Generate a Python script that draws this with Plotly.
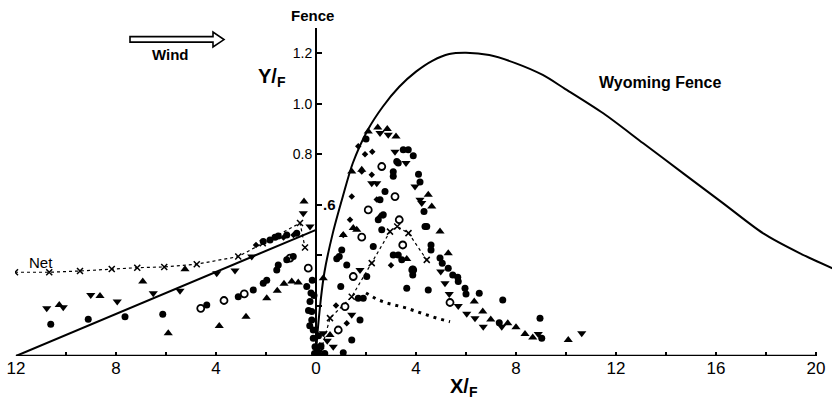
import plotly.graph_objects as go

# ---------------- data (X/F, Y/F) ----------------
wy_x = [0.0, 0.07, 0.33, 0.67, 1.07, 1.47, 2.07, 2.67, 3.33, 4.0, 4.67, 5.33, 6.0, 6.93, 8.0,
        9.07, 9.93, 11.49, 13.09, 14.69, 16.29, 17.89, 19.36, 20.7]
wy_y = [0.0, 0.103, 0.328, 0.486, 0.631, 0.764, 0.896, 0.988, 1.067, 1.127, 1.171, 1.197, 1.202, 1.193, 1.16,
        1.114, 1.061, 0.962, 0.843, 0.724, 0.605, 0.486, 0.407, 0.346]

line_x = [-12, 0]
line_y = [0, 0.5]

net_x = [-12.04, -10.67, -9.44, -8.17, -7.15, -6.07, -4.77, -3.11, -2.13, -0.64, -0.44, None,
         0.2, 0.56, 1.43, 2.23, 2.96, 3.25, 3.7, 4.43]
net_y = [0.332, 0.332, 0.337, 0.345, 0.35, 0.353, 0.364, 0.394, 0.447, 0.527, 0.43, None,
         0.02, 0.15, 0.235, 0.368, 0.493, 0.513, 0.487, 0.381]

dots_x = [2.0, 2.43, 2.83, 3.23, 3.63, 4.03, 4.43, 4.83, 5.36]
dots_y = [0.25, 0.225, 0.21, 0.2, 0.19, 0.176, 0.163, 0.15, 0.136]

circ_x = [-10.61, -9.11, -7.64, -6.13, -4.37, -3.11, -2.51, -2.11, -1.97, -1.57, -1.51, -1.17, -0.91,
          -0.37, -0.24, -0.17, -0.17, -0.11, -0.11, -0.04, -2.11, -1.84, -1.64, -1.51, -1.17, -0.77,
          -0.2, -0.15, -0.25, -0.06, -0.3, -0.08,
          0.05, 0.12, 0.35, 0.2, 1.09, 1.43, 1.76, 1.69, 1.89, 0.99, 2.03, 1.23, 1.03, 0.93, 0.83,
          2.29, 2.63, 2.49, 2.69, 2.56, 2.76, 3.09, 3.09, 3.29, 3.09, 3.29, 3.43, 3.63, 3.87, 3.87,
          4.49, 3.23, 3.49, 3.69, 3.89, 4.32, 4.36, 4.6, 4.6, 4.96, 5.05, 5.29, 5.47, 5.67, 5.69,
          5.96, 6.0, 6.53, 7.47, 7.33, 8.96, 9.03, 4.1, 4.16, 4.43, 2.0, 0.1]
circ_y = [0.126, 0.146, 0.156, 0.165, 0.202, 0.235, 0.262, 0.288, 0.30, 0.341, 0.361, 0.381, 0.394,
          0.275, 0.216, 0.176, 0.143, 0.103, 0.07, 0.037, 0.454, 0.46, 0.471, 0.476, 0.48, 0.487,
          0.25, 0.3, 0.12, 0.01, 0.18, 0.24,
          0.02, 0.005, 0.01, 0.04, 0.013, 0.063, 0.143, 0.229, 0.229, 0.275, 0.315, 0.361, 0.42, 0.394, 0.385,
          0.434, 0.5, 0.54, 0.56, 0.619, 0.652, 0.712, 0.73, 0.765, 0.4, 0.4, 0.381, 0.269, 0.344, 0.321,
          0.262, 0.771, 0.817, 0.817, 0.794, 0.573, 0.513, 0.44, 0.42, 0.388, 0.368, 0.348, 0.321, 0.312, 0.295,
          0.269, 0.246, 0.249, 0.222, 0.132, 0.15, 0.07, 0.72, 0.69, 0.513, 0.86, 0.08]

tup_x = [-10.27, -8.64, -6.93, -5.91, -5.24, -3.87, -2.8, -1.97, -1.55, -1.28, -0.97, -0.71, -0.48,
         0.29, 0.56, 0.15, 1.09, 1.49, 1.63, 1.43, 1.83, 2.09, 2.47, 2.85, 3.2, 2.56, 3.63, 4.49,
         4.63, 4.96, 5.29, 6.33, 6.67, 6.99, 7.67, 8.0, 8.36, 8.67, 10.09]
tup_y = [0.202, 0.238, 0.295, 0.09, 0.344, 0.119, 0.156, 0.229, 0.259, 0.286, 0.295, 0.291, 0.612,
         0.308, 0.083, 0.04, 0.48, 0.507, 0.5, 0.731, 0.738, 0.89, 0.906, 0.9, 0.87, 0.553, 0.384, 0.639,
         0.593, 0.493, 0.407, 0.216, 0.176, 0.145, 0.13, 0.114, 0.087, 0.073, 0.063]

tdn_x = [-10.77, -10.11, -9.01, -7.95, -6.51, -5.44, -3.97, -3.24, -2.57, -0.51, -0.24,
         0.29, 0.69, 1.43, 1.76, 2.23, 2.43, 2.56, 2.89, 3.16, 3.6, 3.96, 4.16, 4.23, 4.99, 5.16,
         5.33, 5.69, 6.03, 6.36, 6.69, 7.43, 8.89, 10.63, 0.45]
tdn_y = [0.189, 0.193, 0.242, 0.216, 0.249, 0.259, 0.328, 0.339, 0.394, 0.566, 0.513,
         0.09, 0.037, 0.163, 0.341, 0.685, 0.685, 0.884, 0.877, 0.81, 0.765, 0.672, 0.619, 0.606, 0.335, 0.288,
         0.246, 0.198, 0.167, 0.15, 0.116, 0.116, 0.087, 0.09, 0.06]

ocirc_x = [-4.61, -3.68, -2.87, -1.04, -0.31, 0.89, 1.16, 1.49, 1.83, 2.09, 2.63, 3.16, 3.33, 3.47, 3.87, 5.36]
ocirc_y = [0.189, 0.22, 0.246, 0.388, 0.348, 0.103, 0.196, 0.315, 0.471, 0.579, 0.751, 0.632, 0.54, 0.44, 0.341, 0.212]

dia_x = [1.83, 1.43, 1.36, 1.09, 1.23, 0.8, 2.23, 2.43, 1.69, 1.96, 2.25, 3.0, -1.3, -0.9, -2.4]
dia_y = [0.731, 0.632, 0.54, 0.48, 0.13, 0.2, 0.718, 0.62, 0.831, 0.80, 0.81, 0.36, 0.47, 0.48, 0.44]

x_ticks = [-12, -10, -8, -6, -4, -2, 0, 2, 4, 6, 8, 10, 12, 14, 16, 18, 20]
x_labels = ["12", "", "8", "", "4", "", "0", "", "4", "", "8", "", "12", "", "16", "", "20"]
y_ticks = [0.2, 0.4, 0.6, 0.8, 1.0, 1.2]
y_labels = ["", "", "", "0.8", "1.0", "1.2"]

# ---------------- figure ----------------
FONT = "Liberation Sans"
L, T, W, H = 15, 28, 817, 328   # plot area in pixels
fig = go.Figure()

fig.add_trace(go.Scatter(x=wy_x, y=wy_y, mode="lines", line=dict(color="black", width=2, shape="spline", smoothing=0.8)))
fig.add_trace(go.Scatter(x=line_x, y=line_y, mode="lines", line=dict(color="black", width=2)))
fig.add_trace(go.Scatter(x=net_x, y=net_y, mode="lines+markers", connectgaps=False,
                         line=dict(color="black", width=1.2, dash="3px,3px"),
                         marker=dict(symbol="x-thin", size=6, line=dict(color="black", width=1.5))))
fig.add_trace(go.Scatter(x=dots_x, y=dots_y, mode="lines",
                         line=dict(color="black", width=3, dash="3px,5px")))
fig.add_trace(go.Scatter(x=circ_x, y=circ_y, mode="markers", marker=dict(symbol="circle", size=7, color="black")))
fig.add_trace(go.Scatter(x=tup_x, y=tup_y, mode="markers", marker=dict(symbol="triangle-up", size=8, color="black")))
fig.add_trace(go.Scatter(x=tdn_x, y=tdn_y, mode="markers", marker=dict(symbol="triangle-down", size=8, color="black")))
fig.add_trace(go.Scatter(x=ocirc_x, y=ocirc_y, mode="markers",
                         marker=dict(symbol="circle-open", size=7, color="black", line=dict(width=1.8, color="black"))))
fig.add_trace(go.Scatter(x=dia_x, y=dia_y, mode="markers", marker=dict(symbol="diamond", size=5, color="black")))

# baseline
fig.add_shape(type="line", xref="x", yref="y", x0=-12, x1=20, y0=0, y1=0, line=dict(color="black", width=2.5))
# hollow wind arrow
fig.add_shape(type="path", xref="x", yref="y",
              path="M -7.44,1.266 L -4.12,1.266 L -4.12,1.284 L -3.68,1.254 L -4.12,1.225 L -4.12,1.244 L -7.44,1.244 Z",
              line=dict(color="black", width=1.6), fillcolor="white")

def ann(text, px, py, size, xanchor="center", bold=True):
    fig.add_annotation(x=(px - L) / W, y=(T + H - py) / H, xref="paper", yref="paper",
                       text=("<b>%s</b>" % text) if bold else text,
                       showarrow=False, xanchor=xanchor, yanchor="middle",
                       font=dict(family=FONT, size=size, color="black"))

ann("Fence", 312, 15, 15)
ann("Y/<sub>F</sub>", 272, 77, 20)
ann("X/<sub>F</sub>", 464, 387, 20)
ann("Wind", 170, 55, 15)
ann("Wyoming Fence", 597, 82, 16, xanchor="left")
ann("Net", 27, 262, 15, xanchor="left", bold=False)
ann(".6", 321, 205, 15, xanchor="left")

fig.update_layout(
    width=832, height=404,
    margin=dict(l=L, r=832 - L - W, t=T, b=404 - T - H),
    paper_bgcolor="white", plot_bgcolor="white",
    showlegend=False,
    font=dict(family=FONT, color="black"),
    xaxis=dict(range=[-12.04, 20.64], showgrid=False, zeroline=False, showline=False,
               tickvals=x_ticks, ticktext=x_labels, ticks="inside", ticklen=4, tickwidth=1.5,
               tickcolor="black", tickfont=dict(family=FONT, size=17, color="black")),
    yaxis=dict(range=[0, 1.3], anchor="free", position=(316 - L) / W, showgrid=False, zeroline=False,
               showline=True, linewidth=2, linecolor="black",
               tickvals=y_ticks, ticktext=y_labels, ticks="inside", ticklen=5, tickwidth=1.5,
               tickcolor="black", tickfont=dict(family=FONT, size=14, color="black")),
)

fig.write_html("out.html")
